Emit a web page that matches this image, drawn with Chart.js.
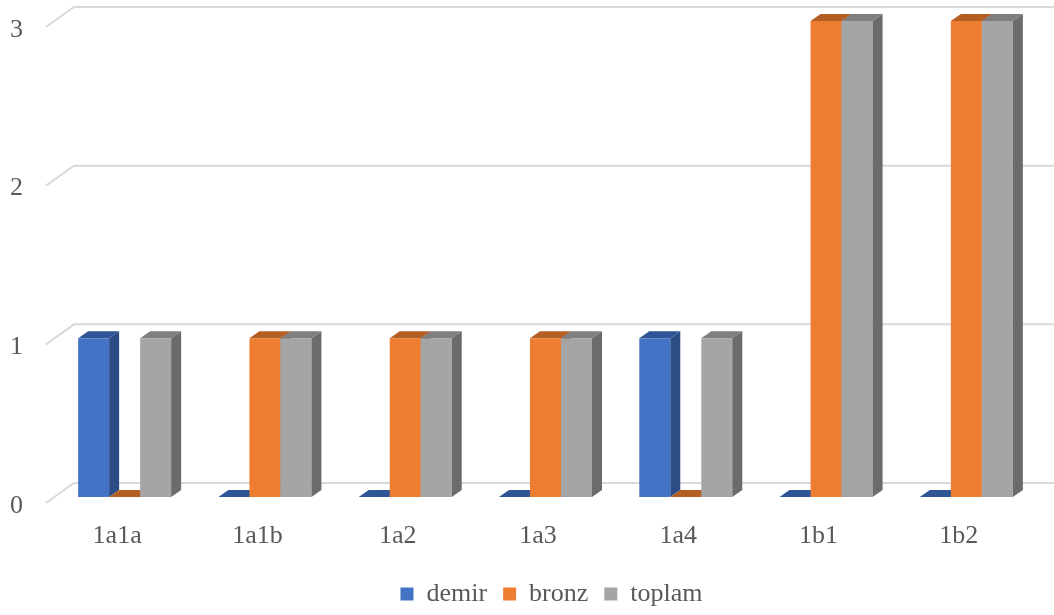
<!DOCTYPE html>
<html>
<head>
<meta charset="utf-8">
<script src="https://cdn.jsdelivr.net/npm/chart.js@4/dist/chart.umd.min.js"></script>
<style>
  html, body { margin: 0; padding: 0; background: #fff; }
  #wrap { width: 1054px; height: 615px; }
</style>
</head>
<body>
<div id="wrap"><canvas id="myChart"></canvas></div>
<script>
const categories = ['1a1a', '1a1b', '1a2', '1a3', '1a4', '1b1', '1b2'];
const demir = [1, 0, 0, 0, 1, 0, 0];
const bronz = [0, 1, 1, 1, 0, 3, 3];
const toplam = [1, 1, 1, 1, 1, 3, 3];

// fake 3d offsets (front plane -> bar plane -> back wall)
const BAR_OX = 7.5, BAR_OY = -6;
const DEPTH_X = 10, DEPTH_Y = 7;
const WALL_X = 27, WALL_Y = 20;
// excel puts the legend a bit right of centre
const LEGEND_SHIFT_X = 37, LEGEND_SHIFT_Y = 2;

function poly(ctx, pts, color) {
  ctx.beginPath();
  ctx.moveTo(pts[0][0], pts[0][1]);
  for (let i = 1; i < pts.length; i++) ctx.lineTo(pts[i][0], pts[i][1]);
  ctx.closePath();
  ctx.fillStyle = color;
  ctx.fill();
}

const fake3d = {
  id: 'fake3d',
  afterLayout(chart) {
    const lg = chart.legend;
    lg.left += LEGEND_SHIFT_X;
    lg.right += LEGEND_SHIFT_X;
    lg.top += LEGEND_SHIFT_Y;
    lg.bottom += LEGEND_SHIFT_Y;
  },
  beforeDatasetsDraw(chart) {
    const { ctx, chartArea, scales: { y } } = chart;
    ctx.save();
    // back wall gridlines with the slanted bit on the left
    ctx.strokeStyle = '#D9D9D9';
    ctx.lineWidth = 2;
    y.ticks.forEach(t => {
      const py = y.getPixelForValue(t.value);
      ctx.beginPath();
      ctx.moveTo(chartArea.left - 1, py);
      ctx.lineTo(chartArea.left + WALL_X, py - WALL_Y);
      ctx.lineTo(chartArea.right + WALL_X, py - WALL_Y);
      ctx.stroke();
    });

    // collect bars and paint them left to right so later fronts hide earlier sides
    const bars = [];
    chart.data.datasets.forEach((ds, di) => {
      chart.getDatasetMeta(di).data.forEach(el => bars.push({ el, ds }));
    });
    bars.sort((a, b) => a.el.x - b.el.x);

    bars.forEach(({ el, ds }) => {
      const x1 = el.x - el.width / 2 + BAR_OX;
      const x2 = x1 + el.width;
      const top = Math.min(el.y, el.base) + BAR_OY;
      const bottom = el.base + BAR_OY;
      if (bottom - top > 0.5) {
        ctx.fillStyle = ds.backgroundColor;
        ctx.fillRect(x1, top, x2 - x1, bottom - top);
        poly(ctx, [[x2, top], [x2 + DEPTH_X, top - DEPTH_Y], [x2 + DEPTH_X, bottom - DEPTH_Y], [x2, bottom]], ds.sideColor);
      }
      poly(ctx, [[x1, top], [x2, top], [x2 + DEPTH_X, top - DEPTH_Y], [x1 + DEPTH_X, top - DEPTH_Y]], ds.topColor);
    });
    ctx.restore();
    return false;
  }
};

const ctx = document.getElementById('myChart').getContext('2d');
const myChart = new Chart(ctx, {
  type: 'bar',
  data: {
    labels: categories,
    datasets: [
      { label: 'demir', data: demir, backgroundColor: '#4472C4', sideColor: '#2B4C85', topColor: '#2F5597' },
      { label: 'bronz', data: bronz, backgroundColor: '#ED7D31', sideColor: '#A85820', topColor: '#B55E24' },
      { label: 'toplam', data: toplam, backgroundColor: '#A5A5A5', sideColor: '#6B6B6B', topColor: '#7F7F7F' },
    ],
  },
  options: {
    responsive: true,
    maintainAspectRatio: false,
    animation: false,
    layout: { padding: { top: 27, right: 25, left: 0, bottom: 0 } },
    datasets: { bar: { barPercentage: 1, categoryPercentage: 0.663 } },
    plugins: {
      tooltip: { enabled: false },
      legend: {
        position: 'bottom',
        labels: {
          boxWidth: 13,
          boxHeight: 13,
          padding: 16,
          color: '#595959',
          font: { family: 'Liberation Serif', size: 26 },
        },
      },
    },
    scales: {
      x: {
        afterFit: s => { s.height = 60; },
        grid: { display: false, drawTicks: false },
        border: { display: false },
        ticks: { color: '#595959', padding: 18, font: { family: 'Liberation Serif', size: 26 } },
      },
      y: {
        min: 0,
        max: 3,
        afterFit: s => {
          s.width = 47;
          s.paddingTop = 0;
          s.paddingBottom = 0;
        },
        grid: { display: false, drawTicks: false },
        border: { display: false },
        ticks: { stepSize: 1, labelOffset: 3, color: '#595959', padding: 24, font: { family: 'Liberation Serif', size: 26 } },
      },
    },
  },
  plugins: [fake3d],
});
</script>
</body>
</html>
